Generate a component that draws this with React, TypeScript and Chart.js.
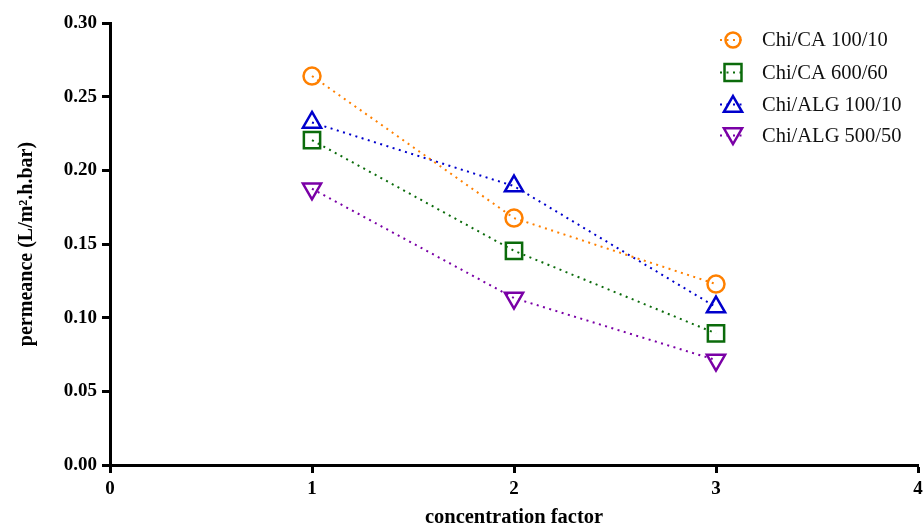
import React, { useEffect, useRef } from "react";
import { Chart, registerables } from "chart.js";

Chart.register(...registerables);

const xValues = [1, 2, 3];
const seriesNames = ["Chi/CA 100/10", "Chi/CA 600/60", "Chi/ALG 100/10", "Chi/ALG 500/50"];
const chiCA100 = [0.264, 0.1676, 0.1228];
const chiCA600 = [0.2205, 0.1454, 0.0893];
const chiALG100 = [0.2325, 0.1893, 0.1072];
const chiALG500 = [0.1875, 0.1133, 0.0712];
const yTicks = [0, 0.05, 0.1, 0.15, 0.2, 0.25, 0.3];
const xTicks = [0, 1, 2, 3, 4];

const colors = ["#FF8000", "#0B6B0B", "#0000CC", "#7A00A6"];
const pointStyles = ["circle", "rect", "triangle", "triangle"];
const pointRotations = [0, 0, 0, 180];
const radii = [8.5, 11.5, 10.5, 10.5];
const legendRadii = [7.5, 12, 10.5, 10.5];

const serif = "'Liberation Serif', 'Times New Roman', serif";

export default function App() {
  const ref = useRef<HTMLCanvasElement | null>(null);
  useEffect(() => {
    document.body.style.margin = "0";
    const all = [chiCA100, chiCA600, chiALG100, chiALG500];
    const datasets = all.map((vals, i) => ({
      label: seriesNames[i],
      data: vals.map((v, j) => ({ x: xValues[j], y: v })),
      borderColor: colors[i],
      backgroundColor: "rgba(0,0,0,0)",
      borderWidth: 2,
      borderDash: [2, 4.5],
      pointStyle: pointStyles[i] as any,
      rotation: pointRotations[i],
      pointRadius: radii[i],
      pointBorderWidth: 2.5,
      pointBackgroundColor: "rgba(0,0,0,0)",
      pointBorderColor: colors[i],
      showLine: true,
    }));

    const legendPlugin = {
      id: "customLegend",
      afterDraw(chart: any) {
        const ctx = chart.ctx;
        ctx.save();
        const x0 = 733;
        const ys = [40, 72.5, 104.5, 135.5];
        datasets.forEach((ds, i) => {
          const y = ys[i];
          ctx.strokeStyle = colors[i];
          ctx.lineWidth = 2;
          ctx.setLineDash([2, 4.5]);
          ctx.beginPath();
          ctx.moveTo(x0 - 13, y);
          ctx.lineTo(x0 + 13, y);
          ctx.stroke();
          ctx.setLineDash([]);
          ctx.lineWidth = 2.5;
          ctx.beginPath();
          const r = legendRadii[i];
          if (pointStyles[i] === "circle") {
            ctx.arc(x0, y, r, 0, Math.PI * 2);
          } else if (pointStyles[i] === "rect") {
            const s = r * Math.SQRT1_2;
            ctx.rect(x0 - s, y - s, 2 * s, 2 * s);
          } else {
            let rad = (pointRotations[i] * Math.PI) / 180;
            const yc = pointRotations[i] === 0 ? y + 2 : y - 2;
            for (let k = 0; k < 3; k++) {
              const px = x0 + Math.sin(rad) * r;
              const py = yc - Math.cos(rad) * r;
              if (k === 0) ctx.moveTo(px, py);
              else ctx.lineTo(px, py);
              rad += (2 * Math.PI) / 3;
            }
            ctx.closePath();
          }
          ctx.stroke();
          ctx.fillStyle = "#111";
          ctx.font = `20.5px ${serif}`;
          ctx.textBaseline = "middle";
          ctx.textAlign = "left";
          ctx.fillText(seriesNames[i], 762, y + 1);
        });
        ctx.restore();
      },
    };

    const chart = new Chart(ref.current as HTMLCanvasElement, {
      type: "scatter",
      data: { datasets: datasets as any },
      plugins: [legendPlugin],
      options: {
        animation: false,
        responsive: false,
        layout: { autoPadding: false, padding: { top: 23, right: 5, left: 0, bottom: 0 } },
        plugins: { legend: { display: false }, tooltip: { enabled: false } },
        scales: {
          x: {
            type: "linear",
            min: 0,
            max: 4,
            afterBuildTicks(scale: any) {
              scale.ticks = xTicks.map((v) => ({ value: v }));
            },
            afterFit(scale: any) {
              scale.height = 62;
              scale.paddingRight = 0;
              scale.paddingLeft = 0;
            },
            border: { color: "#000", width: 3 },
            grid: {
              display: true,
              drawOnChartArea: false,
              drawTicks: true,
              tickLength: 8,
              tickWidth: 3,
              tickColor: "#000",
            },
            ticks: {
              color: "#000",
              padding: 5,
              font: { family: serif, size: 19, weight: "bold" },
              maxRotation: 0,
              callback: (v: any) => String(v),
            },
            title: {
              display: true,
              text: "concentration factor",
              color: "#000",
              font: { family: serif, size: 20.5, weight: "bold" },
              padding: { top: 0, bottom: -3 },
            },
          },
          y: {
            type: "linear",
            min: 0,
            max: 0.3,
            afterBuildTicks(scale: any) {
              scale.ticks = yTicks.map((v) => ({ value: v }));
            },
            afterFit(scale: any) {
              scale.width = 110;
              scale.paddingTop = 0;
              scale.paddingBottom = 0;
            },
            border: { color: "#000", width: 3 },
            grid: {
              display: true,
              drawOnChartArea: false,
              drawTicks: true,
              tickLength: 8,
              tickWidth: 3,
              tickColor: "#000",
            },
            ticks: {
              color: "#000",
              padding: 5,
              font: { family: serif, size: 19, weight: "bold" },
              callback: (v: any) => Number(v).toFixed(2),
            },
            title: {
              display: true,
              text: "permeance (L/m\u00B2.h.bar)",
              color: "#000",
              font: { family: serif, size: 20, weight: "bold" },
              padding: { top: 15, bottom: 0 },
            },
          },
        },
      },
    });
    return () => chart.destroy();
  }, []);
  return (
    <div style={{ width: 923, height: 527 }}>
      <canvas ref={ref} width={923} height={527} style={{ display: "block" }} />
    </div>
  );
}
